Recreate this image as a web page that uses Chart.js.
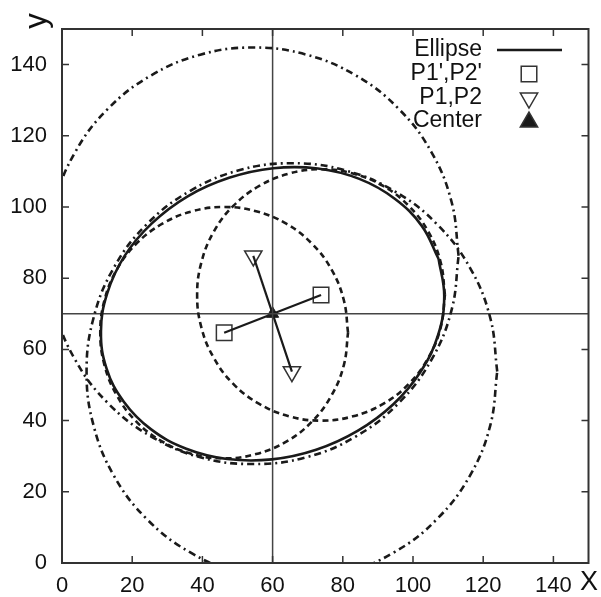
<!DOCTYPE html>
<html>
<head>
<meta charset="utf-8">
<script src="https://cdn.jsdelivr.net/npm/chart.js@4.4.0/dist/chart.umd.min.js"></script>
<style>
  html, body { margin: 0; padding: 0; background: #fff; }
  #wrap { width: 601px; height: 597px; position: relative; }
</style>
</head>
<body>
<div id="wrap"><canvas id="ellipse_chart"></canvas></div>
<script>
// axis ticks
var xTicks = [0, 20, 40, 60, 80, 100, 120, 140];
var yTicks = [0, 20, 40, 60, 80, 100, 120, 140];
var xRange = [0, 150];
var yRange = [0, 150];

// points
var center = [60, 70];
var p1p2Prime = [[46.2, 64.7], [73.8, 75.3]];
var p1p2 = [[54.5, 86.25], [65.5, 53.75]];

// solid ellipse
var ellipsePts = [[107.3, 85.4], [102.5, 94.7], [94.7, 102.4], [84.7, 107.9], [72.9, 110.8], [60.2, 110.9],
    [47.6, 108.2], [35.8, 103.0], [25.6, 95.4], [17.8, 86.2], [12.9, 75.8], [11.1, 65.1], [12.7, 54.6],
    [17.6, 45.3], [25.3, 37.6], [35.4, 32.1], [47.1, 29.2], [59.8, 29.1], [72.4, 31.8], [84.2, 37.1],
    [94.4, 44.6], [102.2, 53.8], [107.2, 64.2], [108.9, 75.0], [107.3, 85.4]];

// dashed circles (around P1' and P2')
var circleA = [[81.5, 64.7], [80.3, 73.8], [76.8, 82.4], [71.2, 89.7], [63.9, 95.3], [55.3, 98.8], [46.2, 100.0],
    [37.1, 98.8], [28.6, 95.3], [21.2, 89.7], [15.6, 82.4], [12.1, 73.8], [10.9, 64.7], [12.1, 55.6],
    [15.6, 47.1], [21.2, 39.7], [28.6, 34.1], [37.1, 30.6], [46.2, 29.4], [55.3, 30.6], [63.9, 34.1],
    [71.2, 39.7], [76.8, 47.1], [80.3, 55.6], [81.5, 64.7]];
var circleB = [[109.1, 75.3], [107.9, 84.4], [104.4, 93.0], [98.8, 100.3], [91.5, 105.9], [82.9, 109.4], [73.8, 110.6],
    [64.7, 109.4], [56.2, 105.9], [48.8, 100.3], [43.2, 93.0], [39.7, 84.4], [38.5, 75.3], [39.7, 66.2],
    [43.2, 57.7], [48.8, 50.3], [56.2, 44.7], [64.7, 41.2], [73.8, 40.0], [82.9, 41.2], [91.5, 44.7],
    [98.8, 50.3], [104.4, 57.7], [107.9, 66.2], [109.1, 75.3]];

// dash-dot circles (around P1 and P2)
var circleC = [[113.0, 86.3], [111.0, 101.4], [105.2, 115.5], [95.9, 127.6], [83.8, 136.9], [69.6, 142.8], [54.5, 144.8],
    [39.4, 142.8], [25.3, 136.9], [13.1, 127.6], [3.8, 115.5], [-2.0, 101.4], [-4.0, 86.3], [-2.0, 71.1],
    [3.8, 57.0], [13.1, 44.9], [25.3, 35.6], [39.4, 29.7], [54.5, 27.8], [69.6, 29.7], [83.8, 35.6],
    [95.9, 44.9], [105.2, 57.0], [111.0, 71.1], [113.0, 86.3]];
var circleD = [[124.0, 53.8], [122.0, 68.9], [116.2, 83.0], [106.9, 95.1], [94.8, 104.4], [80.6, 110.3], [65.5, 112.3],
    [50.4, 110.3], [36.3, 104.4], [24.1, 95.1], [14.8, 83.0], [9.0, 68.9], [7.0, 53.8], [9.0, 38.6],
    [14.8, 24.5], [24.1, 12.4], [36.3, 3.1], [50.4, -2.8], [65.5, -4.8], [80.6, -2.8], [94.8, 3.1],
    [106.9, 12.4], [116.2, 24.5], [122.0, 38.6], [124.0, 53.8]];

var legendLabels = ["Ellipse", "P1',P2'", "P1,P2", "Center"];

var ink = '#1a1a1a';
var fontFamily = "'Liberation Sans', Arial, Helvetica, sans-serif";

function pts(list) {
    return list.map(function(p) { return { x: p[0], y: p[1] }; });
}

function curve(list, dash) {
    return {
        data: pts(list),
        showLine: true,
        borderColor: ink,
        borderWidth: 2.6,
        borderDash: dash,
        pointRadius: 0,
        tension: 0.4
    };
}

var datasets = [
    curve(ellipsePts, []),
    curve(circleA, [6, 4]),
    curve(circleB, [6, 4]),
    curve(circleC, [7, 4, 2, 4]),
    curve(circleD, [7, 4, 2, 4]),
    {   // vertical through centre
        data: [{ x: center[0], y: yRange[0] }, { x: center[0], y: yRange[1] }],
        showLine: true, borderColor: '#444', borderWidth: 1.5, pointRadius: 0
    },
    {   // horizontal through centre
        data: [{ x: xRange[0], y: center[1] }, { x: xRange[1], y: center[1] }],
        showLine: true, borderColor: '#444', borderWidth: 1.5, pointRadius: 0
    },
    {
        data: pts(p1p2Prime),
        showLine: true, borderColor: ink, borderWidth: 2.2, pointRadius: 0
    },
    {
        data: pts(p1p2),
        showLine: true, borderColor: ink, borderWidth: 2.2, pointRadius: 0
    },
    {
        data: pts(p1p2Prime),
        pointStyle: 'rect', pointRadius: 11, pointBorderWidth: 1.5,
        pointBorderColor: '#333', pointBackgroundColor: 'rgba(0,0,0,0)'
    },
    {
        data: pts(p1p2),
        pointStyle: 'triangle', rotation: 180, pointRadius: 10, pointBorderWidth: 1.5,
        pointBorderColor: '#333', pointBackgroundColor: 'rgba(0,0,0,0)'
    },
    {
        data: [{ x: center[0], y: center[1] }],
        pointStyle: 'triangle', pointRadius: 7, pointBorderWidth: 1,
        pointBorderColor: ink, pointBackgroundColor: ink
    }
];

var framePlugin = {
    id: 'frame',
    afterDatasetsDraw: function(chart) {
        var ctx = chart.ctx, a = chart.chartArea;
        var xs = chart.scales.x, ys = chart.scales.y;
        ctx.save();
        ctx.strokeStyle = '#333';
        ctx.lineWidth = 2;
        ctx.strokeRect(a.left, a.top, a.right - a.left, a.bottom - a.top);

        // inward tick marks on all four sides
        ctx.lineWidth = 1.5;
        ctx.beginPath();
        xTicks.forEach(function(v) {
            var px = xs.getPixelForValue(v);
            ctx.moveTo(px, a.bottom); ctx.lineTo(px, a.bottom - 7);
            ctx.moveTo(px, a.top); ctx.lineTo(px, a.top + 7);
        });
        yTicks.forEach(function(v) {
            var py = ys.getPixelForValue(v);
            ctx.moveTo(a.left, py); ctx.lineTo(a.left + 7, py);
            ctx.moveTo(a.right, py); ctx.lineTo(a.right - 7, py);
        });
        ctx.stroke();

        // key, top right
        var textRight = 482, symX = 529, rows = [50, 74, 98, 121];
        ctx.fillStyle = '#111';
        ctx.font = '23px ' + fontFamily;
        ctx.textAlign = 'right';
        ctx.textBaseline = 'middle';
        legendLabels.forEach(function(t, i) { ctx.fillText(t, textRight, rows[i]); });

        ctx.strokeStyle = ink;
        ctx.lineWidth = 2.6;
        ctx.beginPath();
        ctx.moveTo(497, rows[0]); ctx.lineTo(562, rows[0]);
        ctx.stroke();

        var draw = Chart.helpers.drawPoint;
        ctx.strokeStyle = '#333';
        ctx.lineWidth = 1.5;
        ctx.fillStyle = 'rgba(0,0,0,0)';
        draw(ctx, { pointStyle: 'rect', radius: 11, rotation: 0, borderWidth: 1.5 }, symX, rows[1]);
        draw(ctx, { pointStyle: 'triangle', radius: 10, rotation: 180, borderWidth: 1.5 }, symX, rows[2]);
        ctx.fillStyle = ink;
        draw(ctx, { pointStyle: 'triangle', radius: 10, rotation: 0, borderWidth: 1 }, symX, rows[3] + 1);

        // axis letters
        ctx.fillStyle = '#111';
        ctx.textAlign = 'center';
        ctx.font = '27px ' + fontFamily;
        ctx.fillText('X', 589, 583);
        ctx.save();
        ctx.translate(37, 21);
        ctx.rotate(-Math.PI / 2);
        ctx.font = '31px ' + fontFamily;
        ctx.fillText('y', 0, 0);
        ctx.restore();

        ctx.restore();
    }
};

var tickFont = { family: fontFamily, size: 22 };

new Chart(document.getElementById('ellipse_chart').getContext('2d'), {
    type: 'scatter',
    data: { datasets: datasets },
    options: {
        responsive: true,
        maintainAspectRatio: false,
        animation: false,
        layout: { padding: { top: 29, right: 11, left: 0, bottom: 0 } },
        elements: { line: { capBezierPoints: false } },
        plugins: { legend: { display: false }, tooltip: { enabled: false } },
        scales: {
            x: {
                type: 'linear', min: xRange[0], max: xRange[1],
                afterBuildTicks: function(s) { s.ticks = xTicks.map(function(v) { return { value: v }; }); },
                afterFit: function(s) { s.height = 34; },
                grid: { display: false, drawTicks: false }, border: { display: false },
                ticks: { font: tickFont, color: '#111', padding: 10, maxRotation: 0, autoSkip: false }
            },
            y: {
                type: 'linear', min: yRange[0], max: yRange[1],
                afterBuildTicks: function(s) { s.ticks = yTicks.map(function(v) { return { value: v }; }); },
                afterFit: function(s) { s.width = 62; },
                grid: { display: false, drawTicks: false }, border: { display: false },
                ticks: { font: tickFont, color: '#111', padding: 15, autoSkip: false }
            }
        }
    },
    plugins: [framePlugin]
});
</script>
</body>
</html>
